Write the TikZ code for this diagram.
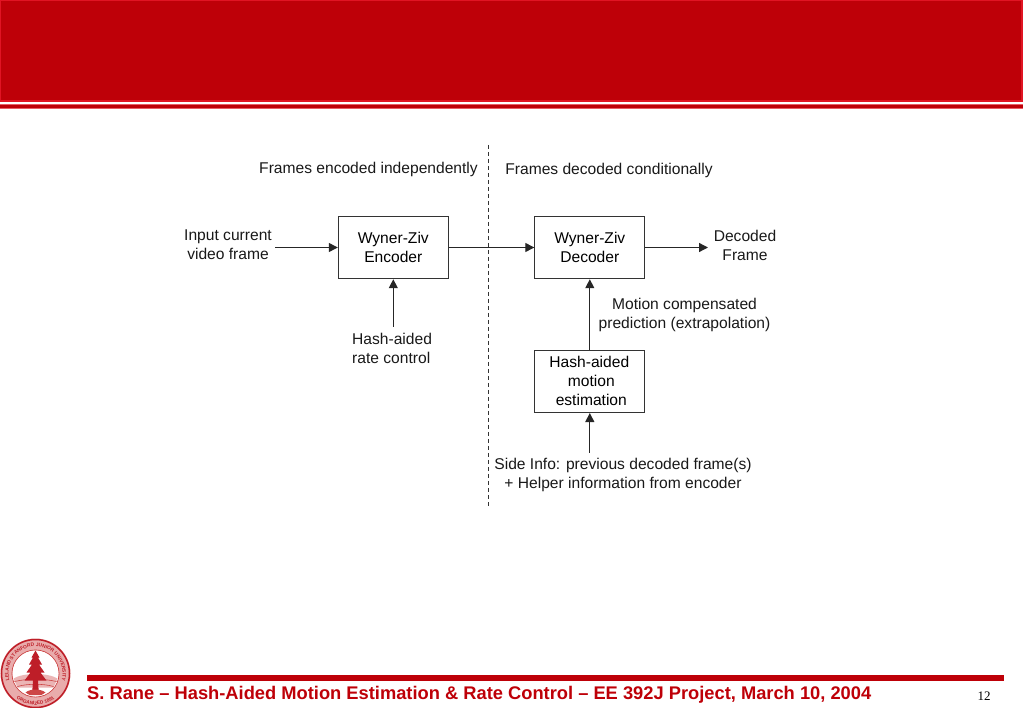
\documentclass[tikz,border=0pt]{standalone}
\usepackage{fontspec}
\setmainfont{Liberation Sans}
\newfontfamily\serifnum{Liberation Serif}
\usetikzlibrary{arrows.meta,decorations.text}
\definecolor{banner}{RGB}{190,0,8}
\definecolor{bannerb}{RGB}{225,20,35}
\definecolor{seal}{RGB}{205,70,70}
\definecolor{sealdark}{RGB}{190,30,40}
\tikzset{
  x=1pt,y=-1pt,
  blockbox/.style={draw=black!80,line width=1pt,minimum width=110pt,minimum height=62.5pt,align=center,inner sep=0pt,font=\fontsize{15.6}{19}\selectfont},
  lbl/.style={align=center,inner sep=0pt,text=black!90,font=\fontsize{15.6}{19}\selectfont},
  arr/.style={-{Triangle[length=9pt,width=9pt]},line width=1.3pt,black!85},
  divider/.style={dash pattern=on 4pt off 3pt,line width=1pt,black!80}
}
\begin{document}
\begin{tikzpicture}
\useasboundingbox (0,0) rectangle (1023,708);
% banner
\fill[bannerb] (0,0) rectangle (1023,102);
\fill[banner] (1,1) rectangle (1021,100.5);
\fill[bannerb!70!white] (0,104.5) rectangle (1023,109);
\fill[banner] (0,105.5) rectangle (1023,108);
% blocks
\node[blockbox] (enc) at (393.3,247.5) {Wyner-Ziv\\Encoder};
\node[blockbox] (dec) at (589.8,247.5) {Wyner-Ziv\\Decoder};
\node[blockbox] (hme) at (589.8,381.3) {\hspace*{0pt}Hash-aided\hspace*{1pt}\\\hspace*{3pt}motion\\\hspace*{3pt}estimation};
% labels
\node[lbl] (fei) at (368.5,169) {Frames encoded independently};
\node[lbl] (fdc) at (609,170.5) {Frames decoded conditionally};
\node[lbl] (inp) at (228,245) {Input current\\video frame};
\node[lbl] (out) at (745,245.5) {Decoded\\Frame};
\node[lbl,align=left,anchor=west] (hrc) at (352,348) {Hash-aided\\rate control};
\node[lbl] (mcp) at (684.5,315) {Motion compensated\\prediction (extrapolation)};
\node[lbl] (si) at (623,475) {Side Info: previous decoded frame(s)\\+ Helper information from encoder};
% divider
\coordinate (dt) at (488,145);
\coordinate (db) at (488,507);
\draw[divider] (dt) -- (db);
% connectors
\coordinate (inpe) at (275,247.5);
\coordinate (oute) at (708,247.5);
\coordinate (hrce) at (393.3,327);
\coordinate (sie) at (589.8,453);
\draw[arr] (inpe) -- (enc.west);
\draw[arr] (enc.east) -- (dec.west);
\draw[arr] (dec.east) -- (oute);
\draw[arr] (hrce) -- (enc.south);
\draw[arr] (hme.north) -- (dec.south);
\draw[arr] (sie) -- (hme.south);
% footer
\fill[banner] (87,675) rectangle (1004,680.5);
\node[anchor=west,inner sep=0pt,text=banner,font=\fontsize{18.3}{20}\selectfont\bfseries] (foot) at (87,695) {S. Rane – Hash-Aided Motion Estimation \& Rate Control – EE 392J Project, March 10, 2004};
\node[inner sep=0pt,font=\fontsize{13}{15}\selectfont\serifnum] (pg) at (984,696) {12};
% seal
\begin{scope}[shift={(35.5,673.5)},y=1pt]
\fill[seal!45!white] (0,0) circle (35);
\draw[sealdark,line width=1.5pt] (0,0) circle (34);
\draw[seal,line width=0.8pt] (0,0) circle (23.5);
\fill[white] (0,0) circle (23);
\path[postaction={decorate,decoration={text along path,text align=center,text={|\fontsize{4.9}{6}\selectfont\bfseries\color{sealdark}|LELAND STANFORD JUNIOR UNIVERSITY}}}]
  (208:27) arc[start angle=208,end angle=-28,radius=27];
\path[postaction={decorate,decoration={text along path,text align=center,text={|\fontsize{4.8}{6}\selectfont\bfseries\color{sealdark}|ORGANIZED 1891}}}]
  (224:31.5) arc[start angle=224,end angle=316,radius=31.5];
% hills
\fill[seal!40!white] (-22,-5) .. controls (-12,1) and (12,1) .. (22,-5) -- (18,-14) -- (-18,-14) -- cycle;
\draw[seal,line width=0.6pt] (-21,-8) .. controls (-8,-5) and (8,-5) .. (21,-8);
\draw[seal,line width=0.6pt] (-18,-13) .. controls (-8,-10) and (8,-10) .. (18,-13);
% tree
\fill[sealdark] (-1.8,5) -- (1.8,5) -- (3.2,-18) -- (-3.2,-18) -- cycle;
\fill[sealdark] (0,23) -- (4,16) -- (2.5,16) -- (6.5,9) -- (3.5,9) -- (9,1) -- (5,1) -- (11,-7) -- (-11,-7) -- (-5,1) -- (-9,1) -- (-3.5,9) -- (-6.5,9) -- (-2.5,16) -- (-4,16) -- cycle;
\fill[seal] (-10,-19) .. controls (-5,-15) and (5,-15) .. (10,-19) -- (6,-21.5) -- (-6,-21.5) -- cycle;
\end{scope}
\end{tikzpicture}
\end{document}
